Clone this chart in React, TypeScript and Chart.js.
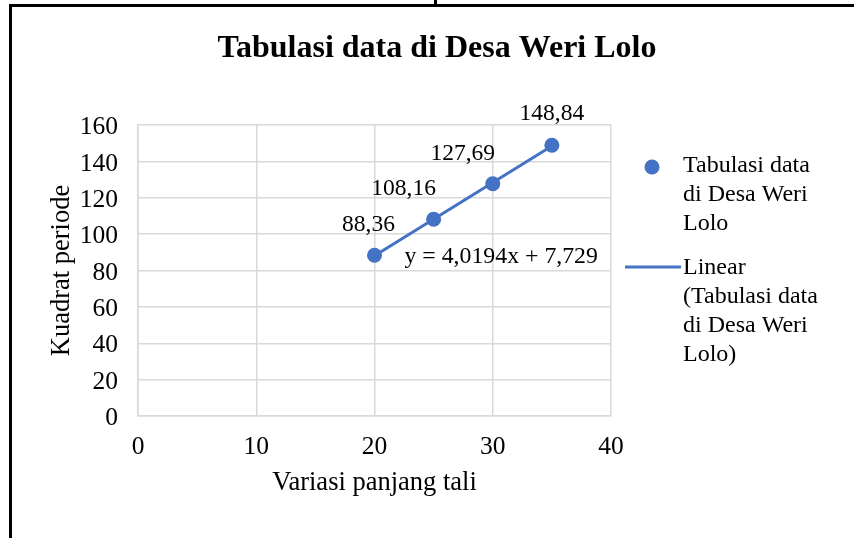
import React, { useEffect, useRef } from "react";
import { Chart, registerables } from "chart.js";

Chart.register(...registerables);

const chartTitle = "Tabulasi data di Desa Weri Lolo";
const xAxisTitle = "Variasi panjang tali";
const yAxisTitle = "Kuadrat periode";
const xValues = [20, 25, 30, 35];
const yValues = [88.36, 108.16, 127.69, 148.84];
const pointLabels = ["88,36", "108,16", "127,69", "148,84"];
const trendSlope = 4.0194;
const trendIntercept = 7.729;
const trendLabel = "y = 4,0194x + 7,729";
const seriesLegend = ["Tabulasi data", "di Desa Weri", "Lolo"];
const trendLegend = ["Linear", "(Tabulasi data", "di Desa Weri", "Lolo)"];
const xMin = 0, xMax = 40, xStep = 10;
const yMin = 0, yMax = 160, yStep = 20;

const BLUE = "#4472C4";
const GRID = "#d9d9d9";
const FONT = "'Liberation Serif', 'Times New Roman', serif";
const TICK_FS = 25.5;
const AXIS_FS = 26.5;
const LEGEND_FS = 24;
const LABEL_FS = 23.5;
const EQ_FS = 23.8;

// label offsets relative to each point (dx, dy) in pixels
const labelOffsets = [
  [-6, -30],
  [-30, -30],
  [-30, -30],
  [0, -31],
];

const W = 854;
const H = 538;

const overlayPlugin = {
  id: "overlay",
  afterDraw(chart: any) {
    const ctx = chart.ctx;
    const xs = chart.scales.x;
    const ys = chart.scales.y;
    const area = chart.chartArea;
    ctx.save();
    // title
    ctx.fillStyle = "#000";
    ctx.font = `bold 32px ${FONT}`;
    ctx.textAlign = "center";
    ctx.textBaseline = "alphabetic";
    ctx.fillText(chartTitle, 437, 57);

    // data labels
    ctx.font = `${LABEL_FS}px ${FONT}`;
    ctx.textBaseline = "middle";
    ctx.textAlign = "center";
    xValues.forEach((xv, i) => {
      const px = xs.getPixelForValue(xv);
      const py = ys.getPixelForValue(yValues[i]);
      ctx.fillText(pointLabels[i], px + labelOffsets[i][0], py + labelOffsets[i][1]);
    });

    // trendline equation
    ctx.font = `${EQ_FS}px ${FONT}`;
    ctx.textAlign = "left";
    ctx.fillText(trendLabel, xs.getPixelForValue(xValues[0]) + 30, ys.getPixelForValue(yValues[0]) + 1);

    // legend
    ctx.font = `${LEGEND_FS}px ${FONT}`;
    const lx = area.right;
    ctx.fillStyle = BLUE;
    ctx.beginPath();
    ctx.arc(lx + 41, 167, 7.5, 0, Math.PI * 2);
    ctx.fill();
    ctx.fillStyle = "#000";
    seriesLegend.forEach((t, i) => ctx.fillText(t, lx + 72, 166 + i * 29));
    ctx.strokeStyle = BLUE;
    ctx.lineWidth = 3;
    ctx.beginPath();
    ctx.moveTo(lx + 14, 267);
    ctx.lineTo(lx + 70, 267);
    ctx.stroke();
    trendLegend.forEach((t, i) => ctx.fillText(t, lx + 72, 268 + i * 29));
    ctx.restore();
  },
};

export default function App() {
  const ref = useRef<HTMLCanvasElement>(null);
  useEffect(() => {
    if (!ref.current) return;
    const trendX = [xValues[0], xValues[xValues.length - 1]];
    const chart = new Chart(ref.current, {
      type: "scatter",
      data: {
        datasets: [
          {
            type: "line",
            label: "Linear (Tabulasi data di Desa Weri Lolo)",
            data: trendX.map((x) => ({ x, y: trendSlope * x + trendIntercept })),
            borderColor: BLUE,
            borderWidth: 3,
            pointRadius: 0,
            fill: false,
          } as any,
          {
            label: "Tabulasi data di Desa Weri Lolo",
            data: xValues.map((x, i) => ({ x, y: yValues[i] })),
            backgroundColor: BLUE,
            borderColor: BLUE,
            borderWidth: 0,
            pointRadius: 7.5,
          },
        ],
      },
      options: {
        responsive: false,
        animation: false,
        layout: { padding: { left: 0, right: W - 611, top: 125, bottom: 0 } },
        plugins: {
          legend: { display: false },
          title: { display: false },
          tooltip: { enabled: false },
        },
        scales: {
          x: {
            type: "linear",
            min: xMin,
            max: xMax,
            ticks: { stepSize: xStep, color: "#000", font: { family: FONT, size: TICK_FS }, padding: 16 },
            grid: { color: GRID, lineWidth: 1.5, drawTicks: false },
            border: { color: GRID, width: 1.5 },
            title: {
              display: true,
              text: xAxisTitle,
              color: "#000",
              font: { family: FONT, size: AXIS_FS },
              padding: { top: 0, bottom: 39 },
            },
            afterFit(scale: any) {
              scale.height = H - 416;
            },
          },
          y: {
            type: "linear",
            min: yMin,
            max: yMax,
            ticks: { stepSize: yStep, color: "#000", font: { family: FONT, size: TICK_FS }, padding: 20, labelOffset: 2.5 },
            grid: { color: GRID, lineWidth: 1.5, drawTicks: false },
            border: { color: GRID, width: 1.5 },
            title: {
              display: true,
              text: yAxisTitle,
              color: "#000",
              font: { family: FONT, size: AXIS_FS },
              padding: { top: 46, bottom: 0 },
            },
            afterFit(scale: any) {
              scale.width = 138;
            },
          },
        },
      },
      plugins: [overlayPlugin],
    });
    return () => chart.destroy();
  }, []);

  return (
    <div style={{ position: "fixed", left: 0, top: 0, width: W, height: H, background: "#fff" }}>
      <canvas ref={ref} width={W} height={H} style={{ position: "absolute", left: 0, top: 0, width: W, height: H }} />
      <div style={{ position: "absolute", left: 9, top: 4, width: W - 9, height: 3, background: "#000" }} />
      <div style={{ position: "absolute", left: 9, top: 4, width: 3, height: H - 4, background: "#000" }} />
      <div style={{ position: "absolute", left: 434, top: 0, width: 3, height: 4, background: "#000" }} />
    </div>
  );
}
